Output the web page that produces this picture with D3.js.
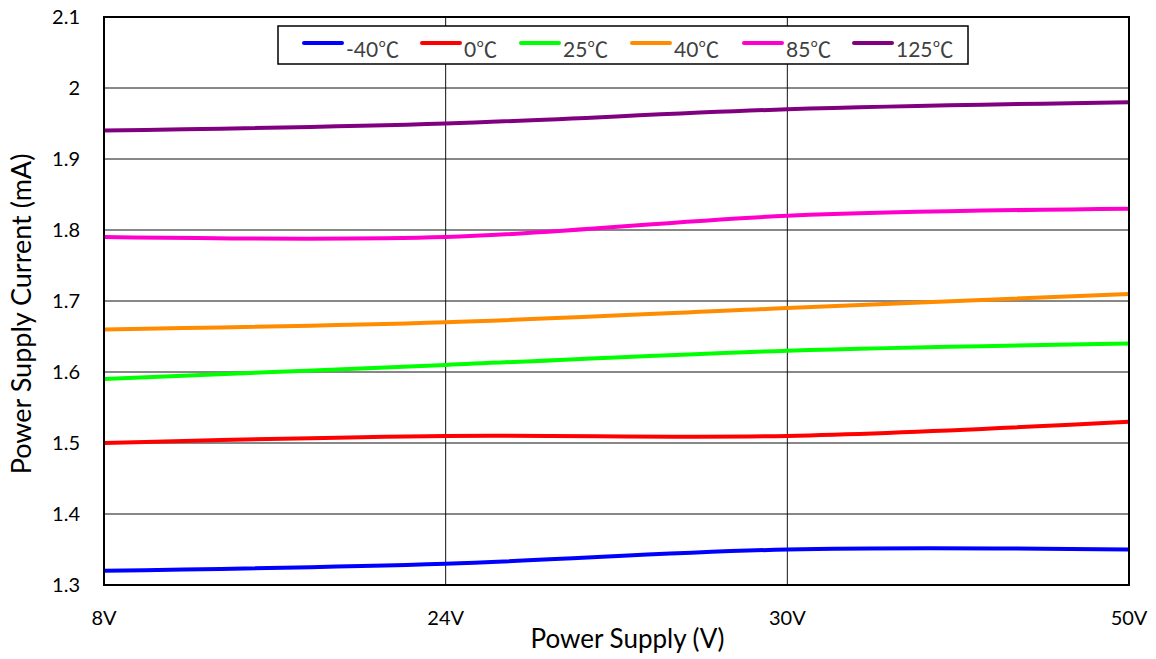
<!DOCTYPE html>
<html>
<head>
<meta charset="utf-8">
<script src="https://cdn.jsdelivr.net/npm/d3@7"></script>
<style>
  body { margin: 0; background: #fff; }
  svg { display: block; font-family: Lato, "Open Sans", sans-serif; }
  .grid line { stroke: #111; stroke-width: 1; }
  .tick-label { font-size: 20px; fill: #000; }
  .axis-title { font-size: 26px; fill: #000; }
  .legend-text { font-size: 21px; fill: #404040; font-family: Lato, "Noto Sans CJK SC", sans-serif; }
</style>
</head>
<body>
<div id="chart"></div>
<script>
// data
const supplies = ['8V', '24V', '30V', '50V'];
const temps = ['-40℃', '0℃', '25℃', '40℃', '85℃', '125℃'];
const colors = ['#0000ff', '#ff0000', '#00ff00', '#ff8c00', '#ff00cc', '#800080'];
const current_m40 = [1.32, 1.33, 1.35, 1.35];
const current_0 = [1.50, 1.51, 1.51, 1.53];
const current_25 = [1.59, 1.61, 1.63, 1.64];
const current_40 = [1.66, 1.67, 1.69, 1.71];
const current_85 = [1.79, 1.79, 1.82, 1.83];
const current_125 = [1.94, 1.95, 1.97, 1.98];
const yTicks = [1.3, 1.4, 1.5, 1.6, 1.7, 1.8, 1.9, 2, 2.1];

const series = [current_m40, current_0, current_25, current_40, current_85, current_125]
  .map((values, i) => ({ key: temps[i], color: colors[i], values }));

// dimensions
const W = 1156;
const H = 659;
const margin = { top: 17, right: 27, bottom: 74, left: 104 };
const width = W - margin.left - margin.right;
const height = H - margin.top - margin.bottom;

const svg = d3.select('#chart').append('svg')
  .attr('width', W)
  .attr('height', H);

const g = svg.append('g')
  .attr('transform', `translate(${margin.left}, ${margin.top})`);

// scales
const scaleX = d3.scalePoint().domain(supplies).range([0, width]);
const scaleY = d3.scaleLinear().domain([1.3, 2.1]).range([height, 0]);

// gridlines
const $grid = g.append('g').attr('class', 'grid');
$grid.selectAll('.h')
  .data(yTicks)
  .join('line')
  .attr('class', 'h')
  .attr('x1', 0)
  .attr('x2', width)
  .attr('y1', d => scaleY(d))
  .attr('y2', d => scaleY(d));
$grid.selectAll('.v')
  .data(supplies.slice(1, -1))
  .join('line')
  .attr('class', 'v')
  .attr('x1', d => scaleX(d))
  .attr('x2', d => scaleX(d))
  .attr('y1', 0)
  .attr('y2', height);

// tick labels
g.selectAll('.y-label')
  .data(yTicks)
  .join('text')
  .attr('class', 'tick-label y-label')
  .attr('x', -24)
  .attr('y', d => scaleY(d))
  .attr('dy', '0.35em')
  .attr('text-anchor', 'end')
  .text(d => d3.format('~g')(d));

g.selectAll('.x-label')
  .data(supplies)
  .join('text')
  .attr('class', 'tick-label x-label')
  .attr('x', d => scaleX(d))
  .attr('y', height + 40)
  .attr('text-anchor', 'middle')
  .text(d => d);

// axis titles
g.append('text')
  .attr('class', 'axis-title')
  .attr('x', width / 2 + 11)
  .attr('y', height + 63)
  .attr('text-anchor', 'middle')
  .text('Power Supply (V)');

g.append('text')
  .attr('class', 'axis-title')
  .attr('transform', `translate(${-73}, ${height / 2 + 13}) rotate(-90)`)
  .attr('text-anchor', 'middle')
  .style('font-size', '27px')
  .text('Power Supply Current (mA)');

// lines
const generateLine = d3.line()
  .x((d, i) => scaleX(supplies[i]))
  .y(d => scaleY(d))
  .curve(d3.curveCatmullRom.alpha(0));

g.selectAll('.series')
  .data(series)
  .join('path')
  .attr('class', 'series')
  .attr('fill', 'none')
  .attr('stroke', d => d.color)
  .attr('stroke-width', 4)
  .attr('d', d => generateLine(d.values));

// plot border
g.append('rect')
  .attr('width', width)
  .attr('height', height)
  .attr('fill', 'none')
  .attr('stroke', '#000')
  .attr('stroke-width', 2);

// legend
const legendX = 278 - margin.left;
const legendY = 26 - margin.top;
const $legend = g.append('g').attr('transform', `translate(${legendX}, ${legendY})`);
$legend.append('rect')
  .attr('width', 690)
  .attr('height', 38)
  .attr('fill', '#fff')
  .attr('stroke', '#000')
  .attr('stroke-width', 1.5);

const itemX = [24, 142, 241, 352, 464, 574];
const $item = $legend.selectAll('.item')
  .data(series)
  .join('g')
  .attr('class', 'item')
  .attr('transform', (d, i) => `translate(${itemX[i]}, 0)`);
$item.append('line')
  .attr('x1', 2)
  .attr('x2', 40)
  .attr('y1', 17)
  .attr('y2', 17)
  .attr('stroke', d => d.color)
  .attr('stroke-width', 4)
  .attr('stroke-linecap', 'round');
$item.append('text')
  .attr('class', 'legend-text')
  .attr('x', 44)
  .attr('y', 31)
  .text(d => d.key);
</script>
</body>
</html>
